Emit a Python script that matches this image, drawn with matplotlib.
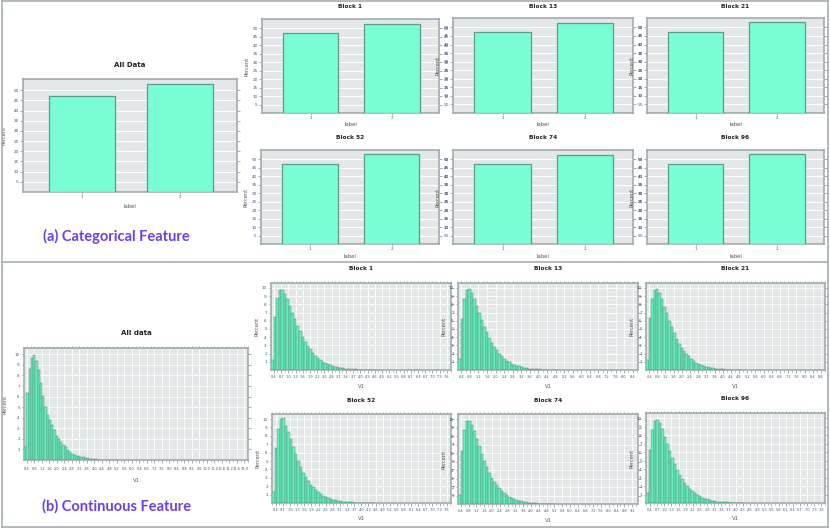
import matplotlib
matplotlib.use('Agg')
import matplotlib.pyplot as plt
from matplotlib.ticker import MultipleLocator, FormatStrFormatter
from matplotlib.lines import Line2D
import numpy as np

W, H = 830, 529

# ---------------- data ----------------
cat_labels = ['1', '2']
cat_all = [47.2, 52.8]
cat_b1 = [47.4, 52.6]
cat_b13 = [47.3, 52.7]
cat_b21 = [47.1, 52.9]
cat_b52 = [47.0, 53.0]
cat_b74 = [47.2, 52.8]
cat_b96 = [47.1, 52.9]
block_titles = ['Block 1', 'Block 13', 'Block 21', 'Block 52', 'Block 74', 'Block 96']

hist_all = [1.2, 6.3, 8.6, 9.7, 9.9, 9.4, 8.5, 7.3, 6.1, 5.0, 4.3, 3.8, 3.3, 2.8,
            2.3, 2.0, 1.7, 1.45, 1.2, 0.95, 0.75, 0.6, 0.5, 0.42, 0.35, 0.3,
            0.25, 0.2, 0.16, 0.12, 0.09, 0.06, 0.05, 0.04, 0.035, 0.03, 0.025,
            0.02, 0.02, 0.015, 0.01, 0.01]
hist_b1 = [1.2, 6.4, 8.8, 9.8, 9.8, 9.3, 8.6, 7.8, 7.0, 6.2, 5.4, 4.7, 4.0, 3.4,
           2.9, 2.5, 2.1, 1.75, 1.45, 1.2, 1.0, 0.82, 0.68, 0.56, 0.46, 0.38,
           0.31, 0.25, 0.2, 0.16, 0.13, 0.1, 0.08, 0.065, 0.05, 0.04, 0.03,
           0.025, 0.02, 0.015, 0.01, 0.01]
hist_b13 = [1.3, 6.2, 8.7, 9.7, 9.9, 9.4, 8.7, 7.8, 6.9, 6.1, 5.3, 4.6, 3.9, 3.3,
            2.8, 2.4, 2.0, 1.7, 1.4, 1.15, 0.95, 0.78, 0.64, 0.52, 0.43, 0.35,
            0.28, 0.23, 0.18, 0.14, 0.11, 0.09, 0.07, 0.055, 0.045, 0.035,
            0.025, 0.02, 0.015, 0.01]
hist_b21 = [1.2, 6.3, 8.6, 9.8, 9.9, 9.4, 8.6, 7.7, 6.9, 6.0, 5.2, 4.5, 3.8, 3.2,
            2.7, 2.3, 1.95, 1.65, 1.35, 1.1, 0.9, 0.74, 0.6, 0.5, 0.4, 0.33,
            0.27, 0.22, 0.17, 0.13, 0.1, 0.08, 0.06, 0.05, 0.04, 0.03, 0.02,
            0.015, 0.01]
hist_b52 = [1.3, 6.5, 8.8, 10.0, 10.1, 9.2, 8.4, 7.6, 6.7, 5.8, 5.0, 4.3, 3.6,
            3.1, 2.6, 2.2, 1.85, 1.55, 1.3, 1.05, 0.86, 0.7, 0.57, 0.47, 0.38,
            0.31, 0.25, 0.2, 0.16, 0.13, 0.1, 0.08, 0.065, 0.05, 0.04, 0.03,
            0.025, 0.02, 0.015, 0.01, 0.01]
hist_b74 = [1.1, 6.2, 8.7, 9.8, 9.8, 9.3, 8.6, 7.7, 6.8, 5.9, 5.1, 4.4, 3.7, 3.1,
            2.6, 2.2, 1.85, 1.55, 1.3, 1.05, 0.86, 0.7, 0.57, 0.46, 0.37, 0.3,
            0.24, 0.19, 0.15, 0.12, 0.09, 0.07, 0.055, 0.045, 0.035, 0.025,
            0.02, 0.015, 0.01]
hist_b96 = [1.2, 6.3, 8.6, 9.7, 9.8, 9.4, 8.7, 7.8, 6.9, 6.1, 5.3, 4.6, 3.9, 3.3,
            2.8, 2.4, 2.0, 1.7, 1.4, 1.15, 0.95, 0.78, 0.63, 0.51, 0.42, 0.34,
            0.27, 0.22, 0.17, 0.13, 0.1, 0.08, 0.06, 0.05, 0.04, 0.03, 0.02,
            0.015, 0.01]
# histogram binning (first edge, bin width), x range and tick step per panel
hist_bins = {'all': (0.25, 0.12), 'b1': (0.29, 0.105), 'b13': (0.26, 0.117),
             'b21': (0.26, 0.12), 'b52': (0.25, 0.105), 'b74': (0.26, 0.128),
             'b96': (0.24, 0.105)}
hist_xlim = {'all': (0.24, 12.2), 'b1': (0.28, 7.77), 'b13': (0.25, 8.65),
             'b21': (0.25, 9.0), 'b52': (0.24, 7.78), 'b74': (0.25, 9.5),
             'b96': (0.23, 7.75)}
hist_tick_step = {'all': 0.4, 'b1': 0.3, 'b13': 0.4, 'b21': 0.4, 'b52': 0.3,
                  'b74': 0.4, 'b96': 0.3}

# ---------------- style ----------------
FACE = '#e3e7e7'
SPINE = '#9ba7a9'
TICKC = '#7f8b8d'
LABC = '#43527a'
BARC = '#78fdd5'
BAREDGE = '#5d9c8c'
HISTC = '#68eebb'
HISTEDGE = '#4a7d6e'
TXT = '#222222'
PURPLE = '#6b3ff0'

fig = plt.figure(figsize=(W / 100, H / 100), dpi=100)
fig.patch.set_facecolor('white')


def add_ax(l, t, r, b):
    return fig.add_axes([l / W, 1 - b / H, (r - l) / W, (b - t) / H])


def base_style(ax):
    ax.set_facecolor(FACE)
    for s in ax.spines.values():
        s.set_color(SPINE)
        s.set_linewidth(1.1)
    ax.set_axisbelow(True)


def ptext(ax, rect, dx, dy, s, **kw):
    l, t, r, b = rect
    w, h = r - l, b - t
    ax.text(dx / w, dy / h, s, transform=ax.transAxes, ha='center', va='center', **kw)


def cat_panel(rect, vals, title, tfs, tgap, right_labels, pct_dx, lab_dy):
    l, t, r, b = rect
    w, h = r - l, b - t
    ax = add_ax(*rect)
    base_style(ax)
    x = np.arange(len(cat_labels))
    ax.bar(x, vals, width=0.68, color=BARC, edgecolor=BAREDGE, linewidth=0.9, zorder=3)
    ax.set_xlim(-0.6, 1.58)
    ax.set_ylim(0, 55.5)
    ax.set_yticks(np.arange(5, 55, 5))
    ax.set_xticks(x)
    ax.set_xticklabels(cat_labels)
    ax.yaxis.grid(True, color='white', linewidth=0.8)
    ax.tick_params(axis='y', left=True, right=True, labelleft=True,
                   labelright=right_labels, length=2, width=0.5, color=TICKC,
                   labelsize=3, labelcolor=LABC, pad=1.2)
    ax.tick_params(axis='x', length=1.5, width=0.5, color=TICKC, labelsize=3,
                   labelcolor=LABC, pad=0.8)
    ptext(ax, rect, w / 2, h + tgap, title, fontsize=tfs, weight='bold', color=TXT)
    ptext(ax, rect, -pct_dx, h / 2, 'Percent', fontsize=3.6, rotation=90, color='#555555')
    ptext(ax, rect, w / 2, -lab_dy, 'label', fontsize=3.8, color='#555555')
    return ax


def hist_panel(rect, key, vals, title, tfs, tgap, pct_dx, tick_pad, lab_dy):
    l, t, r, b = rect
    w, h = r - l, b - t
    ax = add_ax(*rect)
    base_style(ax)
    x0, bw = hist_bins[key]
    edges = x0 + bw * np.arange(len(vals))
    ax.bar(edges, vals, width=bw, align='edge', color=HISTC, edgecolor=HISTEDGE,
           linewidth=0.3, zorder=3)
    ax.set_xlim(*hist_xlim[key])
    ax.set_ylim(0, 10.6)
    step = hist_tick_step[key]
    ax.xaxis.set_major_locator(MultipleLocator(step, offset=0.4 % step))
    ax.xaxis.set_minor_locator(MultipleLocator(step / 2, offset=0.4 % (step / 2)))
    ax.xaxis.set_major_formatter(FormatStrFormatter('%.1f'))
    ax.set_yticks(np.arange(1, 11, 1))
    ax.grid(True, which='major', color='white', linewidth=0.6)
    ax.tick_params(axis='y', left=True, right=True, labelleft=True, length=1.8,
                   width=0.5, color=TICKC, labelsize=3, labelcolor=LABC, pad=1.2)
    ax.tick_params(axis='x', which='major', bottom=True, top=True, length=1.8,
                   width=0.5, color=TICKC, labelsize=2.5, labelcolor=LABC, pad=tick_pad)
    ax.tick_params(axis='x', which='minor', bottom=True, top=True, length=1.2,
                   width=0.4, color=TICKC)
    ptext(ax, rect, w / 2, h + tgap, title, fontsize=tfs, weight='bold', color=TXT)
    ptext(ax, rect, -pct_dx, h / 2, 'Percent', fontsize=3.6, rotation=90, color='#555555')
    ptext(ax, rect, w / 2, -lab_dy, 'V1', fontsize=3.8, color='#555555')
    return ax


# ---------------- categorical ----------------
cat_panel((23, 79, 237, 192), cat_all, 'All Data', 5, 14, False, 19, 15)
cat_rects = [(262, 19, 439, 113), (453, 18, 633, 113), (647, 18, 824, 113),
             (261, 150, 439, 244), (453, 150, 633, 244), (647, 150, 824, 244)]
cat_right = [True, True, False, True, True, False]
cat_vals = [cat_b1, cat_b13, cat_b21, cat_b52, cat_b74, cat_b96]
for rect, v, ttl, rl in zip(cat_rects, cat_vals, block_titles, cat_right):
    cat_panel(rect, v, ttl, 4.2, 12, rl, 15, 12)

# ---------------- continuous ----------------
hist_panel((24, 348, 248, 460), 'all', hist_all, 'All data', 5, 15, 19, 3.2, 20)
hist_rects = [(271, 283, 451, 370), (458, 283, 638, 370), (646, 283, 825, 370),
              (272, 414, 451, 503), (458, 414, 638, 504), (646, 413, 825, 503)]
hist_keys = ['b1', 'b13', 'b21', 'b52', 'b74', 'b96']
hist_vals = [hist_b1, hist_b13, hist_b21, hist_b52, hist_b74, hist_b96]
for rect, k, v, ttl in zip(hist_rects, hist_keys, hist_vals, block_titles):
    hist_panel(rect, k, v, ttl, 4.2, 14, 14, 2.0, 16)

# ---------------- captions ----------------
fig.text(116.5 / W, 1 - 236.5 / H, '(a) Categorical Feature', ha='center', va='center',
         fontsize=10.5, weight='bold', color=PURPLE, family=['Lato', 'DejaVu Sans'])
fig.text(116.5 / W, 1 - 506 / H, '(b) Continuous Feature', ha='center', va='center',
         fontsize=10.5, weight='bold', color=PURPLE, family=['Lato', 'DejaVu Sans'])

# ---------------- frame lines ----------------
FRAME = '#a7afb1'


def hline(y, x1, x2):
    fig.add_artist(Line2D([x1 / W, x2 / W], [1 - y / H, 1 - y / H],
                          transform=fig.transFigure, color=FRAME, linewidth=1.2))


def vline(x, y1, y2):
    fig.add_artist(Line2D([x / W, x / W], [1 - y1 / H, 1 - y2 / H],
                          transform=fig.transFigure, color=FRAME, linewidth=1.2))


hline(1, 2, 828)
hline(262, 2, 828)
hline(527, 2, 828)
vline(2, 1, 527)
vline(828, 1, 527)

fig.savefig('out.png', dpi=100)
